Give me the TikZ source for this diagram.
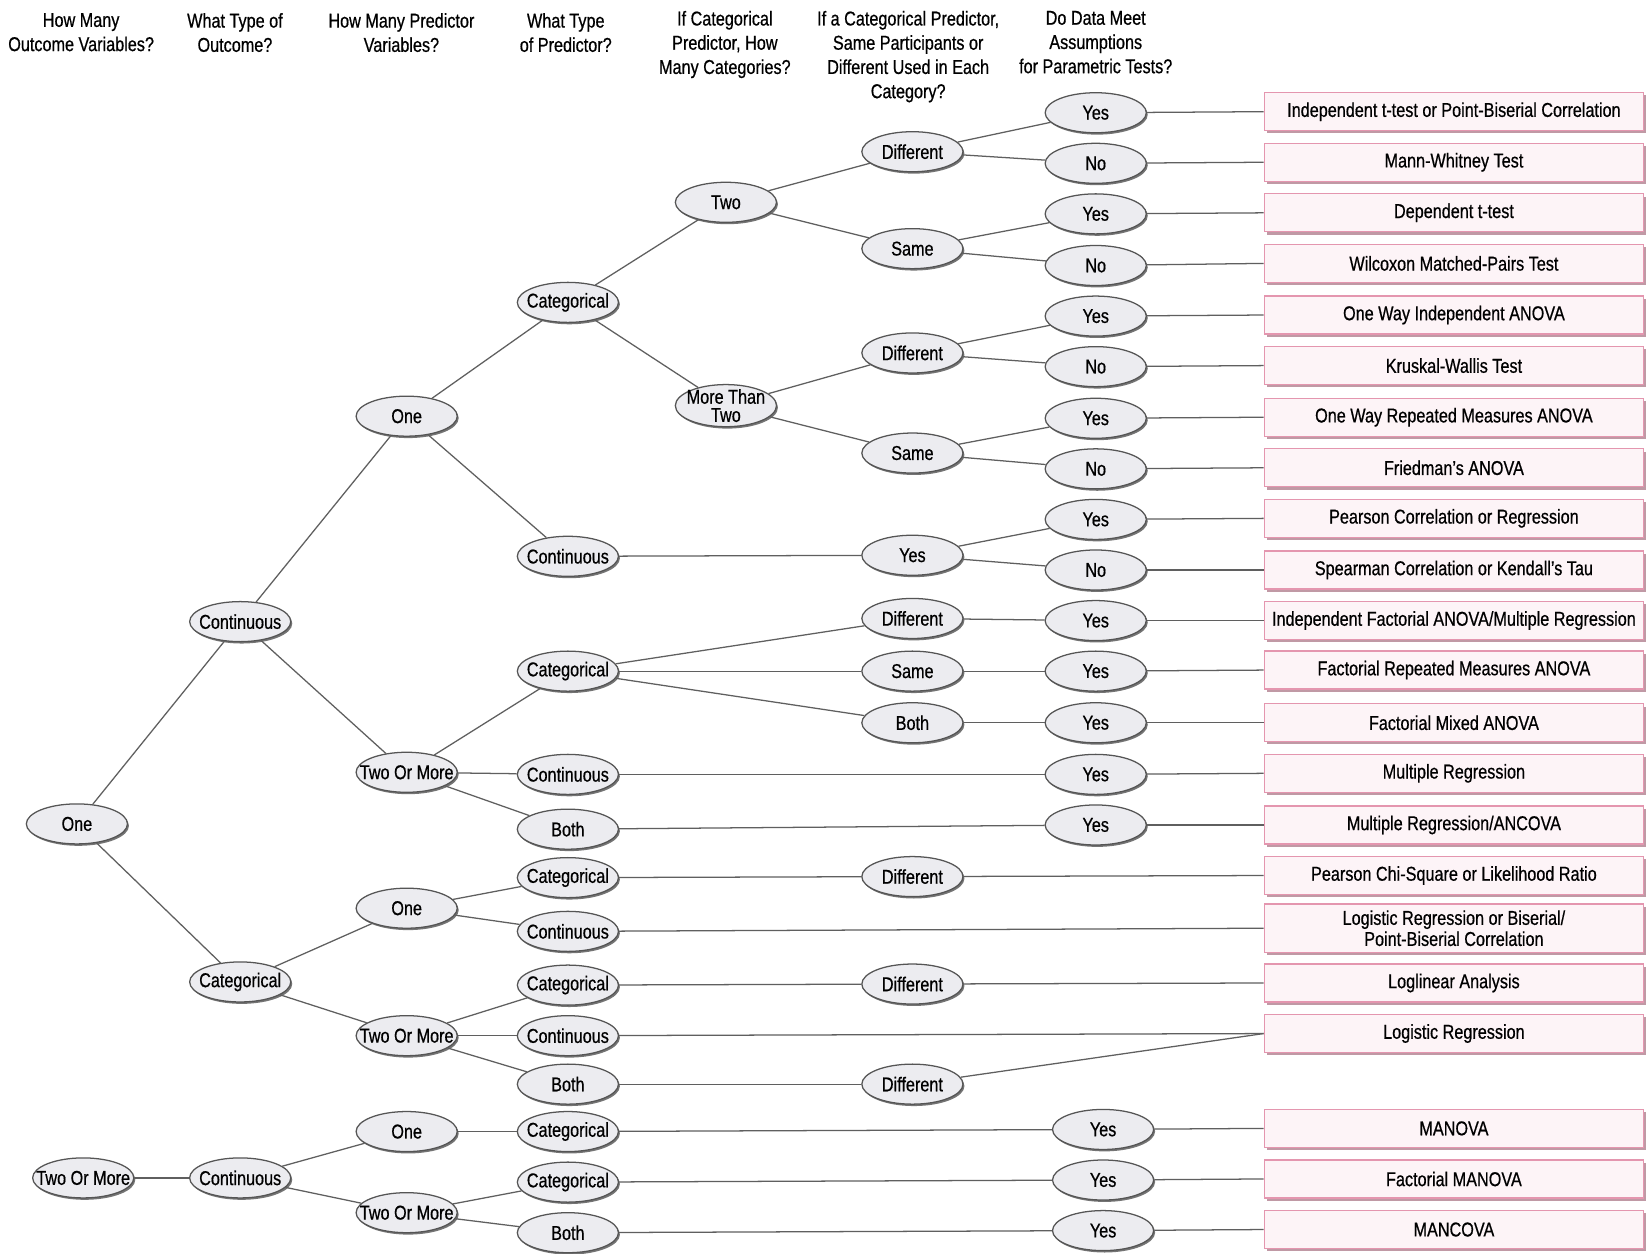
\documentclass[tikz,border=0pt]{standalone}
\usepackage{fontspec}
\setmainfont{Liberation Sans}[FakeStretch=0.81, FakeBold=0.6]
\usetikzlibrary{shapes.geometric,shadows}
\definecolor{ellfill}{RGB}{236,236,240}
\definecolor{elledge}{RGB}{85,85,85}
\definecolor{ellshadow}{RGB}{70,70,70}
\definecolor{boxfill}{RGB}{253,244,247}
\definecolor{boxedge}{RGB}{228,150,175}
\definecolor{boxshadow}{RGB}{150,85,105}
\definecolor{lncol}{RGB}{95,95,95}
\tikzset{
  ov/.style={ellipse, draw=elledge, line width=0.6pt, fill=ellfill,
    minimum width=48pt, minimum height=19pt, inner xsep=-9pt, inner ysep=-4pt,
    font=\fontsize{9.5}{11.5}\selectfont,
    drop shadow={shadow xshift=0.7pt, shadow yshift=-0.9pt, fill=ellshadow, opacity=0.75}},
  res/.style={rectangle, draw=boxedge, line width=0.6pt, fill=boxfill,
    minimum width=180pt, minimum height=18pt, inner sep=1pt,
    font=\fontsize{9.5}{10}\selectfont,
    drop shadow={shadow xshift=1.3pt, shadow yshift=-1.3pt, fill=boxshadow, opacity=0.6}},
  hd/.style={align=center, anchor=north, inner sep=0pt, font=\fontsize{9.5}{11.5}\selectfont},
  ln/.style={draw=lncol, line width=0.6pt}
}
\begin{document}
\begin{tikzpicture}[x=0.5pt,y=-0.5pt]
\fill[white] (0,0) rectangle (1568,1190);
\useasboundingbox (0,0) rectangle (1568,1190);
% headers
\node[hd] (h1) at (77,12) {How Many\\Outcome Variables?};
\node[hd] (h2) at (223,12) {What Type of\\Outcome?};
\node[hd] (h3) at (381,12) {How Many Predictor\\Variables?};
\node[hd] (h4) at (537,12) {What Type\\of Predictor?};
\node[hd] (h5) at (688,10) {If Categorical\\Predictor, How\\Many Categories?};
\node[hd] (h6) at (862,10) {If a Categorical Predictor,\\Same Participants or\\Different Used in Each\\Category?};
\node[hd] (h7) at (1040,10) {Do Data Meet\\Assumptions\\for Parametric Tests?};
% column 1
\node[ov] (o1) at (73,782) {One};
\node[ov] (o2) at (79,1118) {Two Or More};
% column 2
\node[ov] (t1) at (228,590) {Continuous};
\node[ov] (t2) at (228,932) {Categorical};
\node[ov] (t3) at (228,1118) {Continuous};
% column 3
\node[ov] (p1) at (386,395) {One};
\node[ov] (p2) at (386,733) {Two Or More};
\node[ov] (p3) at (386,862) {One};
\node[ov] (p4) at (386,983) {Two Or More};
\node[ov] (p5) at (386,1074) {One};
\node[ov] (p6) at (386,1151) {Two Or More};
% column 4
\node[ov] (k1) at (539,287) {Categorical};
\node[ov] (k2) at (539,528) {Continuous};
\node[ov] (k3) at (539,637) {Categorical};
\node[ov] (k4) at (539,735) {Continuous};
\node[ov] (k5) at (539,787) {Both};
\node[ov] (k6) at (539,833) {Categorical};
\node[ov] (k7) at (539,884) {Continuous};
\node[ov] (k8) at (539,935) {Categorical};
\node[ov] (k9) at (539,983) {Continuous};
\node[ov] (k10) at (539,1029) {Both};
\node[ov] (k11) at (539,1074) {Categorical};
\node[ov] (k12) at (539,1122) {Categorical};
\node[ov] (k13) at (539,1170) {Both};
% column 5
\node[ov] (n1) at (689,192) {Two};
\node[ov, align=center, minimum height=20pt, font=\fontsize{9.5}{8.6}\selectfont] (n2) at (689,385) {More Than\\Two};
% column 6
\node[ov] (s1) at (866,144) {Different};
\node[ov] (s2) at (866,236) {Same};
\node[ov] (s3) at (866,335) {Different};
\node[ov] (s4) at (866,430) {Same};
\node[ov] (s5) at (866,527) {Yes};
\node[ov] (s6) at (866,587) {Different};
\node[ov] (s7) at (866,637) {Same};
\node[ov] (s8) at (866,686) {Both};
\node[ov] (s9) at (866,832) {Different};
\node[ov] (s10) at (866,934) {Different};
\node[ov] (s11) at (866,1029) {Different};
% column 7
\foreach \n/\y/\t in {1/107/Yes,2/155/No,3/203/Yes,4/252/No,5/300/Yes,6/348/No,7/397/Yes,8/445/No,
  9/493/Yes,10/541/No,11/589/Yes,12/637/Yes,13/686/Yes,14/735/Yes,15/783/Yes}
  \node[ov] (a\n) at (1040,\y) {\t};
\foreach \n/\y in {16/1072,17/1120,18/1168}
  \node[ov] (a\n) at (1047,\y) {Yes};
% result boxes
\foreach \n/\y/\t in {
  1/106/{Independent t-test or Point-Biserial Correlation},
  2/154/{Mann-Whitney Test},
  3/202/{Dependent t-test},
  4/250/{Wilcoxon Matched-Pairs Test},
  5/299/{One Way Independent ANOVA},
  6/347/{Kruskal-Wallis Test},
  7/396/{One Way Repeated Measures ANOVA},
  8/444/{Friedman's ANOVA},
  9/492/{Pearson Correlation or Regression},
  10/541/{Spearman Correlation or Kendall's Tau},
  11/589/{Independent Factorial ANOVA/Multiple Regression},
  12/636/{Factorial Repeated Measures ANOVA},
  13/686/{Factorial Mixed ANOVA},
  14/734/{Multiple Regression},
  15/783/{Multiple Regression/ANCOVA},
  16/831/{Pearson Chi-Square or Likelihood Ratio},
  18/933/{Loglinear Analysis},
  19/981/{Logistic Regression},
  20/1071/{MANOVA},
  21/1119/{Factorial MANOVA},
  22/1167/{MANCOVA}}
  \node[res] (r\n) at (1380,\y) {\t};
\node[res, minimum height=23pt, align=center] (r17) at (1380,881) {Logistic Regression or Biserial/\\Point-Biserial Correlation};
% connectors between ellipses
\foreach \a/\b in {o1/t1,o1/t2,o2/t3,t1/p1,t1/p2,t2/p3,t2/p4,t3/p5,t3/p6,
  p1/k1,p1/k2,p2/k3,p2/k4,p2/k5,p3/k6,p3/k7,p4/k8,p4/k9,p4/k10,p5/k11,p6/k12,p6/k13,
  k1/n1,k1/n2,k2/s5,k3/s6,k3/s7,k3/s8,k4/a14,k5/a15,k6/s9,k8/s10,k10/s11,
  k11/a16,k12/a17,k13/a18,
  n1/s1,n1/s2,n2/s3,n2/s4,
  s1/a1,s1/a2,s2/a3,s2/a4,s3/a5,s3/a6,s4/a7,s4/a8,s5/a9,s5/a10,s6/a11,s7/a12,s8/a13}
  \draw[ln] (\a) -- (\b);
% connectors into result boxes
\foreach \a/\b in {a1/r1,a2/r2,a3/r3,a4/r4,a5/r5,a6/r6,a7/r7,a8/r8,a9/r9,a10/r10,
  a11/r11,a12/r12,a13/r13,a14/r14,a15/r15,s9/r16,k7/r17,s10/r18,k9/r19,s11/r19,
  a16/r20,a17/r21,a18/r22}
  \draw[ln] (\a) -- (\b.west);
\end{tikzpicture}
\end{document}
